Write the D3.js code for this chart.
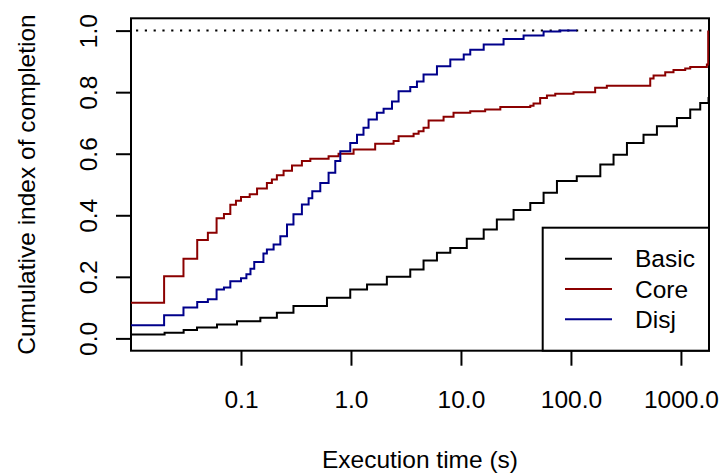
<!DOCTYPE html>
<html><head><meta charset="utf-8">
<script src="https://cdn.jsdelivr.net/npm/d3@7"></script>
<style>
body{margin:0;background:#fff}
svg{display:block}
text{font-family:"Liberation Sans",Arial,Helvetica,sans-serif;fill:#000}
</style>
</head><body><svg id="c" width="723" height="475"></svg>
<script>
// ---- data ----
const seriesNames = ["Basic", "Core", "Disj"];
const seriesColors = ["#000000", "#8B0000", "#00008B"];

const basicTimes = [0.01, 0.0202, 0.0301, 0.0398, 0.0605, 0.092, 0.15, 0.212, 0.30, 0.605, 0.985, 1.40, 2.12, 3.46, 4.57, 6.05, 8.0, 11.3, 16.1, 21.2, 30.1, 42.7, 56.4, 74.6, 113, 185, 244, 323, 457, 605, 920, 1215, 1498, 1782, 1800];
const basicValues = [0.013, 0.018, 0.027, 0.035, 0.045, 0.056, 0.067, 0.083, 0.105, 0.132, 0.159, 0.175, 0.200, 0.224, 0.253, 0.278, 0.294, 0.324, 0.354, 0.386, 0.417, 0.440, 0.473, 0.511, 0.527, 0.565, 0.597, 0.635, 0.662, 0.689, 0.716, 0.744, 0.765, 0.781, 0.792];

const coreTimes = [0.01, 0.02, 0.03, 0.04, 0.05, 0.06, 0.07, 0.08, 0.09, 0.1, 0.12, 0.14, 0.172, 0.191, 0.212, 0.244, 0.291, 0.358, 0.427, 0.626, 0.771, 1.056, 1.66, 2.44, 2.71, 3.71, 4.12, 4.57, 5.08, 6.95, 8.56, 12.15, 16.6, 22.8, 42.7, 45.7, 52.5, 60.5, 72.0, 105.6, 166, 212, 526, 564, 720, 856, 1094, 1215, 1722, 1770];
const coreValues = [0.116, 0.202, 0.259, 0.320, 0.343, 0.390, 0.404, 0.434, 0.447, 0.459, 0.468, 0.487, 0.505, 0.516, 0.530, 0.545, 0.562, 0.576, 0.584, 0.592, 0.600, 0.614, 0.632, 0.641, 0.657, 0.665, 0.673, 0.684, 0.708, 0.720, 0.733, 0.738, 0.744, 0.752, 0.756, 0.763, 0.781, 0.789, 0.795, 0.800, 0.814, 0.821, 0.844, 0.854, 0.865, 0.872, 0.877, 0.882, 0.890, 1.0];

const disjTimes = [0.01, 0.02, 0.03, 0.04, 0.05, 0.06, 0.07, 0.08, 0.1, 0.112, 0.122, 0.132, 0.16, 0.172, 0.198, 0.228, 0.262, 0.30, 0.358, 0.412, 0.445, 0.526, 0.626, 0.72, 0.80, 0.985, 1.134, 1.30, 1.445, 1.72, 1.98, 2.36, 2.71, 3.46, 3.98, 4.57, 6.05, 8.0, 10.6, 12.15, 16.1, 24.4, 37.1, 56.4, 80, 113];
const disjValues = [0.043, 0.075, 0.100, 0.118, 0.127, 0.159, 0.165, 0.186, 0.195, 0.208, 0.226, 0.248, 0.276, 0.289, 0.305, 0.332, 0.370, 0.403, 0.435, 0.455, 0.478, 0.505, 0.538, 0.576, 0.608, 0.635, 0.662, 0.684, 0.711, 0.733, 0.746, 0.770, 0.803, 0.817, 0.835, 0.857, 0.884, 0.906, 0.922, 0.938, 0.955, 0.973, 0.984, 0.997, 1.0, 1.0];

const xTicks = [0.1, 1, 10, 100, 1000];
const xTickLabels = ["0.1", "1.0", "10.0", "100.0", "1000.0"];
const yTicks = [0, 0.2, 0.4, 0.6, 0.8, 1.0];
const yTickLabels = ["0.0", "0.2", "0.4", "0.6", "0.8", "1.0"];
const xDomain = [0.01, 1800];
const yDomain = [-0.04, 1.04];
const xTitle = "Execution time (s)";
const yTitle = "Cumulative index of completion";

// ---- layout ----
const box = {l: 131, r: 709, t: 18.3, b: 350.7};
const FS = 24.5;
const LW = 2;

const svg = d3.select("#c");
const x = d3.scaleLog().domain(xDomain).range([box.l, box.r]);
const y = d3.scaleLinear().domain(yDomain).range([box.b, box.t]);

svg.append("defs").append("clipPath").attr("id", "clip")
  .append("rect").attr("x", box.l).attr("y", box.t)
  .attr("width", box.r - box.l).attr("height", box.b - box.t);

const plot = svg.append("g").attr("clip-path", "url(#clip)");

// dotted reference line at 1
plot.append("line")
  .attr("x1", box.l).attr("x2", box.r)
  .attr("y1", y(1)).attr("y2", y(1))
  .attr("stroke", "#000").attr("stroke-width", 2)
  .attr("stroke-dasharray", "2.2,6.6").attr("stroke-dashoffset", 3.8);

const seriesData = [
  {times: basicTimes, values: basicValues},
  {times: coreTimes, values: coreValues},
  {times: disjTimes, values: disjValues}
];

// axes
const xAxis = svg.append("g").attr("transform", `translate(0,${box.b})`)
  .call(d3.axisBottom(x).tickValues(xTicks).tickFormat((d, i) => xTickLabels[i])
    .tickSize(15).tickSizeOuter(0));
xAxis.select(".domain").remove();
xAxis.selectAll("line").attr("stroke", "#000").attr("stroke-width", LW);
xAxis.selectAll("text").attr("y", 57).attr("dy", 0)
  .style("font-size", FS + "px").attr("fill", "#000");
xAxis.attr("font-family", null).attr("font-size", null);

const yAxis = svg.append("g").attr("transform", `translate(${box.l},0)`)
  .call(d3.axisLeft(y).tickValues(yTicks).tickFormat((d, i) => yTickLabels[i])
    .tickSize(15).tickSizeOuter(0));
yAxis.select(".domain").remove();
yAxis.selectAll("line").attr("stroke", "#000").attr("stroke-width", LW);
yAxis.selectAll("text")
  .attr("x", null).attr("dy", 0).attr("text-anchor", "middle")
  .attr("transform", `translate(${97 - box.l},0) rotate(-90)`)
  .style("font-size", FS + "px").attr("fill", "#000");
yAxis.attr("font-family", null).attr("font-size", null);

// frame
svg.append("rect").attr("x", box.l).attr("y", box.t)
  .attr("width", box.r - box.l).attr("height", box.b - box.t)
  .attr("fill", "none").attr("stroke", "#000").attr("stroke-width", LW);

// series drawn over the frame (as in the reference, the Core jump shows at the right edge)
const plot2 = svg.append("g").attr("clip-path", "url(#clip)");
seriesData.forEach((s, i) => {
  const pts = s.times.map((t, j) => [t, s.values[j]]);
  const line = d3.line().x(d => x(d[0])).y(d => y(d[1])).curve(d3.curveStepAfter);
  plot2.append("path").attr("d", line(pts))
    .attr("fill", "none").attr("stroke", seriesColors[i])
    .attr("stroke-width", LW);
});

// titles
svg.append("text").attr("x", (box.l + box.r) / 2).attr("y", 468)
  .attr("text-anchor", "middle").style("font-size", FS + "px").text(xTitle);
svg.append("text")
  .attr("transform", `translate(35,${(box.t + box.b) / 2}) rotate(-90)`)
  .attr("text-anchor", "middle").style("font-size", FS + "px").text(yTitle);

// legend
const lg = svg.append("g");
lg.append("rect").attr("x", 542.7).attr("y", 227.7)
  .attr("width", box.r - 542.7).attr("height", box.b - 227.7)
  .attr("fill", "#fff").attr("stroke", "#000").attr("stroke-width", LW);
const rowY = [258.7, 289, 319.3];
seriesNames.forEach((name, i) => {
  lg.append("line").attr("x1", 565).attr("x2", 612)
    .attr("y1", rowY[i]).attr("y2", rowY[i])
    .attr("stroke", seriesColors[i]).attr("stroke-width", LW);
  lg.append("text").attr("x", 635).attr("y", rowY[i])
    .attr("dy", "0.35em").style("font-size", FS + "px").text(name);
});
</script>
</body></html>
